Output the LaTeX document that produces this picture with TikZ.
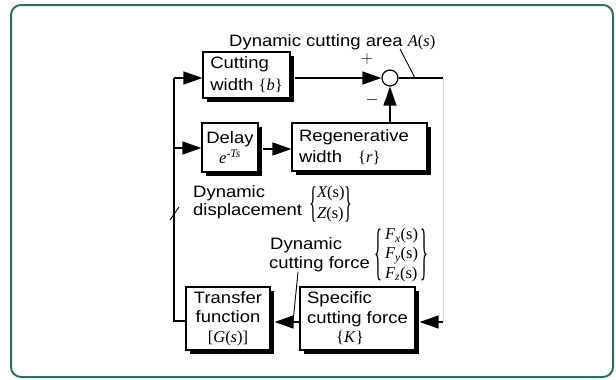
\documentclass[tikz,border=0pt]{standalone}
\usepackage{graphicx}
\usepackage{fontspec}
\setmainfont{Liberation Sans}[FakeStretch=1.12]
\newfontfamily\tms{Liberation Serif}
\usetikzlibrary{arrows.meta,shadows}
\definecolor{framec}{RGB}{46,112,102}
\definecolor{faintc}{RGB}{215,215,215}
\newcommand{\tbr}[1]{{\tms\{\textit{#1}\}}}
\newcommand{\tallL}[1]{\vcenter{\hbox{\scalebox{1}[#1]{\tms\{}}}}
\newcommand{\tallR}[1]{\vcenter{\hbox{\scalebox{1}[#1]{\tms\}}}}}
\newcommand{\vecxz}{$\tallL{2.6}\renewcommand{\arraystretch}{1.02}\begin{array}{@{}l@{}}\hbox{\tms\itshape X\upshape(s)}\\\hbox{\tms\itshape Z\upshape(s)}\end{array}\tallR{2.6}$}
\newcommand{\vecf}{$\tallL{3.8}\,\renewcommand{\arraystretch}{0.95}\begin{array}{@{}l@{}}\hbox{\tms\itshape F\textsubscript{x}\upshape(s)}\\\hbox{\tms\itshape F\textsubscript{y}\upshape(s)}\\\hbox{\tms\itshape F\textsubscript{z}\upshape(s)}\end{array}\,\tallR{3.8}$}
\begin{document}
\begin{tikzpicture}[x=1pt,y=-1pt,
  font=\fontsize{16.5}{20.5}\selectfont,
  box/.style={draw, fill=white, line width=1.2pt, inner sep=2pt,
    drop shadow={shadow xshift=3.5pt, shadow yshift=-3.5pt, fill=black, opacity=1}},
  conn/.style={line width=1.5pt},
  arr/.style={line width=1.5pt, -{Triangle[length=19pt,width=13pt]}},
  ptr/.style={line width=0.9pt},
  lbl/.style={inner sep=0pt, align=left},
]
\useasboundingbox (0,0) rectangle (616,380);
\draw[framec, line width=2pt, rounded corners=10pt] (11,5) rectangle (613,377);

% boxes
\node[box, minimum width=87, minimum height=46, align=left] (cw) at (246.5,75)
  {Cutting\\[1.5pt]width \tbr{b}};
\node[box, minimum width=56, minimum height=49, align=center] (dl) at (230,147.5)
  {Delay\\{\tms\itshape e\textsuperscript{-Ts}}};
\node[box, minimum width=135, minimum height=48, align=left, text width=121pt] (rg) at (359.5,147)
  {Regenerative\\width\hspace{16pt}\tbr{r}};
\node[box, minimum width=84, minimum height=63, align=center, font=\fontsize{16.5}{19.5}\selectfont] (tf) at (228,318.5)
  {Transfer\\function\\{\tms[\textit{G}(\textit{s})]}};
\node[box, minimum width=115, minimum height=63, align=left, font=\fontsize{16.5}{19.5}\selectfont] (sp) at (357.5,318.5)
  {Specific\\cutting force\\\hspace*{29pt}\tbr{K}};
\node[draw, circle, minimum size=16pt, inner sep=0pt, line width=1.2pt, fill=white] (S) at (390,78) {};

% labels
\node[lbl, anchor=base west] (area) at (229,46) {Dynamic cutting area {\tms\itshape A}{\tms(\textit{s})}};
\node[inner sep=0pt] (plus) at (367,59) {$+$};
\node[inner sep=0pt] (minus) at (372,100) {$-$};
\node[lbl, anchor=base west] (dd1) at (193,197) {Dynamic};
\node[lbl, anchor=base west] (dd2) at (193,215) {displacement};
\node[lbl, anchor=west] (ddv) at (309,204) {\vecxz};
\node[lbl, anchor=base west] (df1) at (270,249) {Dynamic};
\node[lbl, anchor=base west] (df2) at (269,268) {cutting force};
\node[lbl, anchor=west] (dfv) at (374,255) {\vecf};

% coordinates
\coordinate (L1) at (174,78);
\coordinate (L2) at (174,148);
\coordinate (L3) at (174,321);
\coordinate (R1) at (443,78);
\coordinate (R2) at (443,322);
\coordinate (spE) at ([xshift=4pt]sp.east);
\coordinate (tfE) at ([xshift=4pt]tf.east);
\coordinate (dlE) at ([xshift=4pt]dl.east);
\coordinate (cwE) at ([xshift=4pt]cw.east);

% connectors
\draw[conn] (L3 -| tf.west) -- (L3) -- (L1);
\draw[arr] (L1) -- (L1 -| cw.west);
\draw[arr] (L2) -- (L2 -| dl.west);
\draw[arr] (cwE |- S) -- (S.west);
\draw[conn] (S.east) -- (R1);
\draw[faintc, line width=1pt] (R1) -- (R2);
\draw[arr] (R2) -- (R2 -| spE);
\draw[arr] (rg.north -| S) -- (S.south);
\draw[arr] (dlE |- 0,149) -- (rg.west |- 0,149);
\draw[arr] (sp.west |- 0,322) -- (tfE |- 0,322);

% pointer lines
\coordinate (a1) at (400,49);
\coordinate (a2) at (415,78);
\draw[ptr] (a1) -- (a2);
\coordinate (c1) at (298,272);
\coordinate (c2) at (293,322);
\draw[ptr] (c1) -- (c2);
\coordinate (t1) at (170,220);
\coordinate (t2) at (179,207);
\draw[ptr] (t1) -- (t2);
\end{tikzpicture}
\end{document}
